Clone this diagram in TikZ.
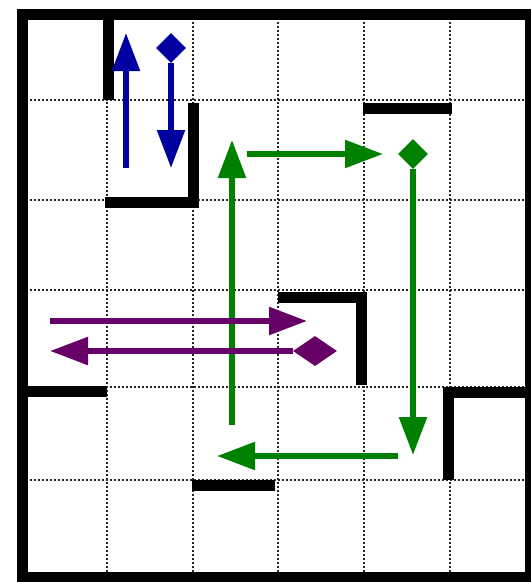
\documentclass[tikz,border=0pt]{standalone}
\usetikzlibrary{arrows.meta,shapes.geometric}
\definecolor{mblue}{RGB}{0,0,160}
\definecolor{mgreen}{RGB}{0,128,0}
\definecolor{mpurple}{RGB}{102,0,102}
\begin{document}
\begin{tikzpicture}[x=1pt,y=-1pt,
  wall/.style={line width=11pt, line join=miter, draw=black},
  gridline/.style={line width=2pt, dash pattern=on 1.8pt off 2.2pt, draw=black!85},
  arr/.style={line width=5.5pt, -{Triangle[width=27pt,length=38pt]}},
  gem/.style={diamond, inner sep=0pt, minimum width=30pt, minimum height=30pt, draw=none}]
\useasboundingbox (0,0) rectangle (531,582);
\fill[white] (0,0) rectangle (531,582);
% grid
\foreach \gx in {107,193,278,364,450} \draw[gridline] (\gx,14) -- (\gx,577);
\foreach \gy in {100,200,290,387,480} \draw[gridline] (22,\gy) -- (530,\gy);
% outer border
\draw[wall] (22,14) rectangle (530,577);
% inner walls
\draw[wall] (108,14) -- (108,100);
\draw[wall] (193,103) -- (193,202) -- (105,202);
\draw[wall] (363,108) -- (452,108);
\draw[wall] (278,297) -- (361,297) -- (361,385);
\draw[wall] (22,391) -- (107,391);
\draw[wall] (192,485) -- (275,485);
\draw[wall] (448,480) -- (448,392) -- (531,392);
% blue
\coordinate (bu1) at (126,168);
\coordinate (bu2) at (126,33);
\draw[arr,mblue] (bu1) -- (bu2);
\node[gem,fill=mblue] (bd) at (171,48) {};
\coordinate (bd2) at (171,168);
\draw[arr,mblue] (bd.south) -- (bd2);
% green
\coordinate (g1) at (232,425);
\coordinate (g2) at (232,140);
\draw[arr,mgreen] (g1) -- (g2);
\coordinate (g3) at (247,154);
\coordinate (g4) at (383,154);
\draw[arr,mgreen] (g3) -- (g4);
\node[gem,fill=mgreen] (gd) at (413,154) {};
\coordinate (g5) at (413,455);
\draw[arr,mgreen] (gd.south) -- (g5);
\coordinate (g6) at (398,456);
\coordinate (g7) at (217,456);
\draw[arr,mgreen] (g6) -- (g7);
% purple
\coordinate (p1) at (50,321);
\coordinate (p2) at (307,321);
\draw[arr,mpurple] (p1) -- (p2);
\node[gem,fill=mpurple,minimum width=44pt] (pd) at (315,351) {};
\coordinate (p3) at (50,351);
\draw[arr,mpurple] (pd.west) -- (p3);
\end{tikzpicture}
\end{document}
